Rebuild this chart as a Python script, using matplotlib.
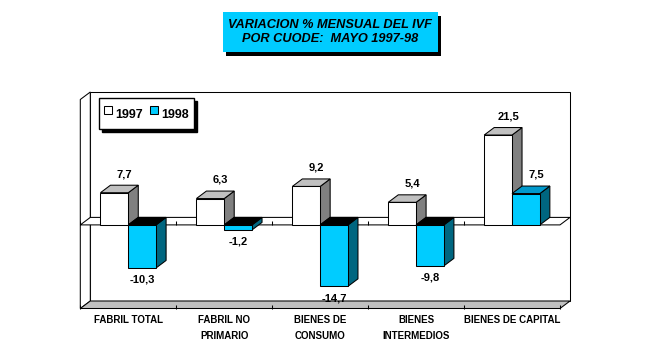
import numpy as np
import matplotlib
matplotlib.use('Agg')
import matplotlib.pyplot as plt
from matplotlib.patches import Polygon, Rectangle
from matplotlib.lines import Line2D

plt.rcParams['font.family'] = ['Liberation Sans', 'DejaVu Sans']

# data
categories = ['FABRIL TOTAL', 'FABRIL NO\nPRIMARIO', 'BIENES DE\nCONSUMO',
              'BIENES\nINTERMEDIOS', 'BIENES DE CAPITAL']
v1997 = [7.7, 6.3, 9.2, 5.4, 21.5]
v1998 = [-10.3, -1.2, -14.7, -9.8, 7.5]
series_names = ['1997', '1998']
title = 'VARIACION % MENSUAL DEL IVF\nPOR CUODE:  MAYO 1997-98'

CYAN = '#00CCFF'
CYAN_TOP = '#0099CC'
CYAN_SIDE = '#006680'
GREY_TOP = '#C0C0C0'
GREY_SIDE = '#808080'

W, H = 648, 360
fig = plt.figure(figsize=(W / 100, H / 100), dpi=100)
ax = fig.add_axes([80.3 / W, 1 - 308.5 / H, 479.7 / W, 209 / H])
xmin, xmax, ymin, ymax = -0.5, 4.5, -20, 30
ax.set_xlim(xmin, xmax)
ax.set_ylim(ymin, ymax)
ax.patch.set_visible(False)
for s in ax.spines.values():
    s.set_visible(False)

# depth offset of the fake 3d look, in pixels -> data units
bb = ax.get_window_extent()
px_x = bb.width / (xmax - xmin)
px_y = bb.height / (ymax - ymin)
dx = 10 / px_x
dy = 7.5 / px_y
LW = 0.75


def face(pts, fc, z):
    ax.add_patch(Polygon(pts, closed=True, fc=fc, ec='black', lw=LW,
                         clip_on=False, zorder=z, joinstyle='miter'))


# walls, floor and zero plane
ax.add_patch(Rectangle((xmin + dx, ymin + dy), xmax - xmin, ymax - ymin,
                       fc='white', ec='black', lw=LW, clip_on=False, zorder=1))
face([(xmin, ymin), (xmin, ymax), (xmin + dx, ymax + dy), (xmin + dx, ymin + dy)],
     'white', 1.1)
face([(xmin, ymin), (xmax, ymin), (xmax + dx, ymin + dy), (xmin + dx, ymin + dy)],
     GREY_TOP, 1.2)
face([(xmin, 0), (xmax, 0), (xmax + dx, dy), (xmin + dx, dy)], 'white', 1.3)
bounds = np.arange(xmin, xmax + 0.5)
ax.vlines(bounds, 0, 3.5 / px_y, colors='black', lw=LW, zorder=1.4)

# bars, painted left to right so the right ones cover the left sides
width = 0.29
x = np.arange(len(categories))
z = 10
for i in x:
    for j, (vals, front, top, side) in enumerate([
            (v1997, 'white', GREY_TOP, GREY_SIDE),
            (v1998, CYAN, CYAN_TOP, CYAN_SIDE)]):
        v = vals[i]
        x0 = i - width + j * width
        x1 = x0 + width
        face([(x1, 0), (x1, v), (x1 + dx, v + dy), (x1 + dx, dy)], side, z)
        if v >= 0:
            face([(x0, v), (x1, v), (x1 + dx, v + dy), (x0 + dx, v + dy)], top, z)
        else:
            face([(x0, 0), (x1, 0), (x1 + dx, dy), (x0 + dx, dy)], 'black', z)
        ax.bar(x0, v, width=width, align='edge', color=front,
               edgecolor='black', lw=LW, zorder=z + 1)
        txt = f'{v:.1f}'.replace('.', ',')
        if v >= 0:
            ax.annotate(txt, (x0 + width / 2 + dx, v + dy), xytext=(0, 8),
                        textcoords='offset points', ha='center', va='center',
                        fontsize=8, fontweight='bold', zorder=50)
        else:
            ax.annotate(txt, (x0 + width / 2, v), xytext=(0, -8.5),
                        textcoords='offset points', ha='center', va='center',
                        fontsize=8, fontweight='bold', zorder=50)
        z += 2

ax.set_yticks([])
ax.set_xticks(x)
ax.set_xticklabels(categories, fontsize=7, fontweight='bold', linespacing=1.75)
ax.tick_params(axis='x', which='major', length=0, pad=5)
ax.set_xticks(bounds, minor=True)
ax.tick_params(axis='x', which='minor', direction='in', length=3, width=LW)

# legend
handles = [Line2D([], [], ls='none', marker='s', markersize=5.2, mfc=c,
                  mec='black', mew=LW, label=n)
           for c, n in zip(['white', CYAN], series_names)]
fig.legend(handles=handles, loc='upper left', ncol=2,
           bbox_to_anchor=(99.3 / W, 1 - 98.3 / H), borderaxespad=0,
           prop={'weight': 'bold', 'size': 9}, frameon=True, fancybox=False,
           shadow={'color': 'black', 'alpha': 1}, edgecolor='black',
           framealpha=1, handlelength=0.6, handleheight=2.2,
           handletextpad=0.3, columnspacing=0.55, borderpad=0.4)

# title box with shadow
fig.patches.append(Rectangle((226 / W, 1 - 55.6 / H), 215 / W, 40 / H,
                             transform=fig.transFigure, fc='black', ec='none'))
fig.patches.append(Rectangle((222.7 / W, 1 - 52.3 / H), 215 / W, 40 / H,
                             transform=fig.transFigure, fc=CYAN, ec='none'))
fig.text(330 / W, 1 - 32 / H, title, ha='center', va='center',
         fontsize=9.2, fontweight='bold', fontstyle='italic', linespacing=1.25)

fig.savefig('out.png', dpi=100)
